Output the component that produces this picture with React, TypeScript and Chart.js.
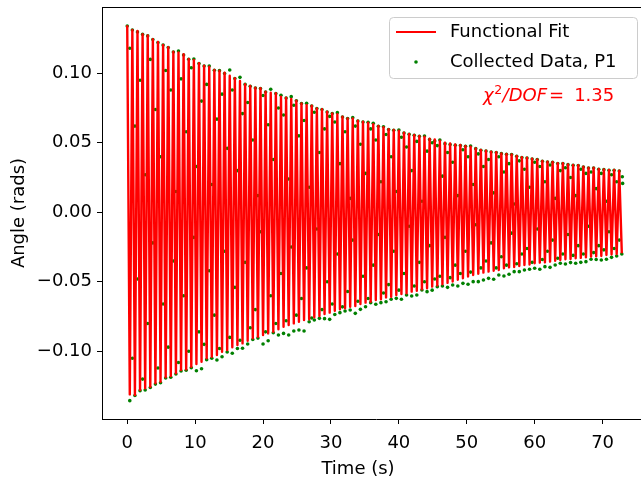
import React, { useEffect, useRef } from 'react';
import { Chart, registerables } from 'chart.js';

Chart.register(...registerables);

// Spacing of the fitted oscillation peaks (s), read from the column spacing.
const PERIOD = 0.7547;

// Upper turning points of the functional fit, one per cycle (rad), t = k*PERIOD
const FIT_TOP = [
  0.1345, 0.1311, 0.1304, 0.1282, 0.1273, 0.1245, 0.1225, 0.1204, 0.1187, 0.1155,
  0.1150, 0.1137, 0.1103, 0.1096, 0.1072, 0.1055, 0.1047, 0.1024, 0.1019, 0.1004,
  0.0983, 0.0964, 0.0945, 0.0921, 0.0909, 0.0896, 0.0892, 0.0868, 0.0860, 0.0856,
  0.0832, 0.0824, 0.0815, 0.0803, 0.0784, 0.0772, 0.0767, 0.0748, 0.0741, 0.0724,
  0.0712, 0.0705, 0.0688, 0.0676, 0.0676, 0.0659, 0.0652, 0.0645, 0.0633, 0.0621,
  0.0612, 0.0597, 0.0592, 0.0587, 0.0573, 0.0563, 0.0556, 0.0549, 0.0544, 0.0529,
  0.0525, 0.0515, 0.0501, 0.0496, 0.0489, 0.0484, 0.0477, 0.0472, 0.0460, 0.0448,
  0.0443, 0.0436, 0.0432, 0.0424, 0.0419, 0.0417, 0.0405, 0.0396, 0.0393, 0.0386,
  0.0381, 0.0369, 0.0364, 0.0362, 0.0353, 0.0353, 0.0345, 0.0340, 0.0338, 0.0328,
  0.0321, 0.0321, 0.0312, 0.0309, 0.0304, 0.0304, 0.0299,
];

// Lower turning points of the functional fit (rad), t = (k+0.5)*PERIOD
const FIT_BOTTOM = [
  -0.1310, -0.1314, -0.1278, -0.1266, -0.1255, -0.1230, -0.1219, -0.1187, -0.1178, -0.1158,
  -0.1135, -0.1130, -0.1111, -0.1091, -0.1075, -0.1050, -0.1039, -0.1027, -0.1003, -0.0991,
  -0.0971, -0.0955, -0.0943, -0.0924, -0.0906, -0.0895, -0.0883, -0.0871, -0.0859, -0.0842,
  -0.0823, -0.0811, -0.0799, -0.0787, -0.0775, -0.0770, -0.0755, -0.0746, -0.0732, -0.0722,
  -0.0708, -0.0698, -0.0691, -0.0679, -0.0674, -0.0660, -0.0650, -0.0643, -0.0631, -0.0626,
  -0.0612, -0.0607, -0.0595, -0.0588, -0.0583, -0.0571, -0.0564, -0.0554, -0.0547, -0.0535,
  -0.0527, -0.0518, -0.0508, -0.0498, -0.0485, -0.0474, -0.0462, -0.0451, -0.0442, -0.0434,
  -0.0427, -0.0420, -0.0415, -0.0403, -0.0396, -0.0393, -0.0386, -0.0379, -0.0375, -0.0367,
  -0.0362, -0.0360, -0.0355, -0.0348, -0.0343, -0.0338, -0.0336, -0.0331, -0.0328, -0.0324,
  -0.0319, -0.0317, -0.0314, -0.0307, -0.0304, -0.0300, -0.0295,
];

// Collected data near each upper peak (rad), t = k*PERIOD
const DATA_TOP = [
  0.1340, 0.1311, 0.1297, 0.1280, 0.1269, 0.1243, 0.1222, 0.1203, 0.1185, 0.1153,
  0.1160, 0.1132, 0.1101, 0.1103, 0.1070, 0.1053, 0.1053, 0.1022, 0.1019, 0.0999,
  0.1024, 0.0962, 0.0971, 0.0920, 0.0907, 0.0894, 0.0890, 0.0866, 0.0885, 0.0854,
  0.0842, 0.0822, 0.0832, 0.0803, 0.0782, 0.0784, 0.0765, 0.0746, 0.0739, 0.0722,
  0.0710, 0.0717, 0.0686, 0.0674, 0.0681, 0.0657, 0.0650, 0.0647, 0.0640, 0.0619,
  0.0615, 0.0595, 0.0590, 0.0592, 0.0571, 0.0561, 0.0554, 0.0547, 0.0549, 0.0523,
  0.0513, 0.0520, 0.0494, 0.0487, 0.0482, 0.0480, 0.0475, 0.0477, 0.0458, 0.0446,
  0.0441, 0.0434, 0.0430, 0.0422, 0.0417, 0.0415, 0.0403, 0.0394, 0.0391, 0.0384,
  0.0379, 0.0367, 0.0362, 0.0360, 0.0351, 0.0351, 0.0343, 0.0338, 0.0336, 0.0326,
  0.0319, 0.0319, 0.0310, 0.0307, 0.0302, 0.0302, 0.0297,
];

// Collected data near each lower peak (rad), t = (k+0.5)*PERIOD
const DATA_BOTTOM = [
  -0.1355, -0.1318, -0.1283, -0.1278, -0.1260, -0.1236, -0.1226, -0.1192, -0.1187, -0.1163,
  -0.1142, -0.1136, -0.1118, -0.1140, -0.1125, -0.1060, -0.1050, -0.1063, -0.1039, -0.1005,
  -0.1014, -0.0980, -0.0978, -0.0947, -0.0915, -0.0905, -0.0947, -0.0924, -0.0866, -0.0883,
  -0.0871, -0.0883, -0.0854, -0.0847, -0.0854, -0.0787, -0.0775, -0.0763, -0.0765, -0.0770,
  -0.0735, -0.0722, -0.0710, -0.0703, -0.0727, -0.0698, -0.0679, -0.0650, -0.0662, -0.0650,
  -0.0643, -0.0626, -0.0619, -0.0626, -0.0595, -0.0602, -0.0595, -0.0559, -0.0571, -0.0560,
  -0.0535, -0.0530, -0.0540, -0.0523, -0.0530, -0.0511, -0.0518, -0.0499, -0.0499, -0.0487,
  -0.0475, -0.0482, -0.0451, -0.0458, -0.0446, -0.0427, -0.0427, -0.0415, -0.0410, -0.0403,
  -0.0410, -0.0391, -0.0396, -0.0379, -0.0367, -0.0372, -0.0362, -0.0367, -0.0360, -0.0355,
  -0.0338, -0.0340, -0.0343, -0.0338, -0.0324, -0.0314, -0.0300,
];

// Collected data between the peaks, in milliradians (upper half, t = (k+0.5)*PERIOD)
const DATA_MID_UPPER = [
  118, 62, 95, 27, 110, 74, 40, 102, 88, 15,
  96, 58, 104, 33, 80, 92, 20, 67, 85, 46,
  88, 30, 71, 79, 52, 12, 84, 63, 38, 75,
  70, 24, 77, 55, 66, 18, 72, 43, 60, 69,
  65, 35, 58, 10, 62, 49, 28, 60, 52, 22,
  56, 40, 15, 54, 47, 30, 51, 8, 44, 50,
  48, 26, 43, 36, 12, 45, 40, 20, 42, 33,
  38, 14, 40, 29, 35, 6, 37, 31, 18, 36,
  33, 22, 34, 10, 30, 32, 25, 12, 31, 28,
  29, 17, 28, 8, 27, 22,
];

// Collected data between the peaks, in milliradians below zero (t = (k+1)*PERIOD)
const DATA_MID_LOWER = [
  105, 48, 120, 80, 22, 112, 66, 97, 35, 108,
  60, 100, 18, 86, 95, 42, 74, 98, 28, 90,
  54, 92, 36, 83, 70, 14, 86, 60, 80, 44,
  78, 25, 74, 62, 40, 76, 12, 70, 50, 66,
  30, 68, 57, 20, 64, 46, 62, 38, 16, 58,
  52, 28, 56, 44, 10, 53, 36, 50, 24, 48,
  46, 18, 47, 38, 44, 28, 43, 9, 40, 35,
  22, 40, 32, 38, 15, 37, 30, 26, 36, 12,
  34, 28, 20, 33, 30, 16, 31, 24, 30, 10,
  29, 24, 27, 14, 26, 20,
];

// Last collected samples
const DATA_END_T = [72.9, 72.95];
const DATA_END_Y = [0.0256, 0.0208];

const X_TICKS = [0, 10, 20, 30, 40, 50, 60, 70];
const Y_TICKS = [-0.1, -0.05, 0, 0.05, 0.1];
const X_LIMITS = [-3.715, 76.98];
const Y_LIMITS = [-0.1487, 0.1477];

const FIT_LABEL = 'Functional Fit';
const DATA_LABEL = 'Collected Data, P1';
const X_TITLE = 'Time (s)';
const Y_TITLE = 'Angle (rads)';
const CHI2_VALUE = '1.35';

const FONT = '"DejaVu Sans", sans-serif';
const RED = '#ff0000';
const GREEN = '#008000';

function fmtY(v: number): string {
  if (Math.abs(v) < 1e-9) return '0.00';
  return (v < 0 ? '\u2212' : '') + Math.abs(v).toFixed(2);
}

const decorPlugin = {
  id: 'decor',
  afterDraw(chart: any) {
    const ctx: CanvasRenderingContext2D = chart.ctx;
    const area = chart.chartArea;
    ctx.save();
    // top spine
    ctx.strokeStyle = '#000';
    ctx.lineWidth = 1;
    ctx.beginPath();
    ctx.moveTo(area.left, area.top + 0.5);
    ctx.lineTo(area.right, area.top + 0.5);
    ctx.stroke();

    // axis titles
    ctx.fillStyle = '#000';
    ctx.font = `18px ${FONT}`;
    ctx.textAlign = 'center';
    ctx.textBaseline = 'middle';
    ctx.fillText(X_TITLE, 358, 469.5);
    ctx.save();
    ctx.translate(19, 213);
    ctx.rotate(-Math.PI / 2);
    ctx.fillText(Y_TITLE, 0, 0);
    ctx.restore();

    // legend box
    const bx = 389.5, by = 17.5, bw = 248, bh = 61, r = 4;
    ctx.beginPath();
    ctx.moveTo(bx + r, by);
    ctx.lineTo(bx + bw - r, by);
    ctx.quadraticCurveTo(bx + bw, by, bx + bw, by + r);
    ctx.lineTo(bx + bw, by + bh - r);
    ctx.quadraticCurveTo(bx + bw, by + bh, bx + bw - r, by + bh);
    ctx.lineTo(bx + r, by + bh);
    ctx.quadraticCurveTo(bx, by + bh, bx, by + bh - r);
    ctx.lineTo(bx, by + r);
    ctx.quadraticCurveTo(bx, by, bx + r, by);
    ctx.closePath();
    ctx.fillStyle = 'rgba(255,255,255,0.8)';
    ctx.fill();
    ctx.strokeStyle = '#cccccc';
    ctx.lineWidth = 1;
    ctx.stroke();

    const ds = chart.data.datasets;
    ctx.strokeStyle = ds[0].borderColor;
    ctx.lineWidth = 2;
    ctx.beginPath();
    ctx.moveTo(396, 32);
    ctx.lineTo(436, 32);
    ctx.stroke();
    ctx.fillStyle = ds[1].backgroundColor;
    ctx.beginPath();
    ctx.arc(416, 62, 1.8, 0, Math.PI * 2);
    ctx.fill();
    ctx.fillStyle = '#000';
    ctx.textAlign = 'left';
    ctx.font = `18px ${FONT}`;
    ctx.fillText(ds[0].label, 450, 32);
    ctx.fillText(ds[1].label, 450, 62);

    // chi^2 / DOF annotation
    ctx.fillStyle = RED;
    ctx.textBaseline = 'alphabetic';
    const base = 101;
    let x = 483;
    ctx.font = `italic 18px ${FONT}`;
    ctx.fillText('\u03c7', x, base);
    x += ctx.measureText('\u03c7').width + 0.5;
    ctx.font = `12.5px ${FONT}`;
    ctx.fillText('2', x, base - 7.5);
    x += ctx.measureText('2').width + 0.5;
    ctx.font = `italic 18px ${FONT}`;
    ctx.fillText('/DOF', x, base);
    x += ctx.measureText('/DOF').width + 2;
    ctx.font = `18px ${FONT}`;
    ctx.fillText('=', x, base);
    x += ctx.measureText('=').width + 10;
    ctx.fillText(CHI2_VALUE, x, base);
    ctx.restore();
  },
};

export default function App() {
  const ref = useRef<HTMLCanvasElement>(null);

  useEffect(() => {
    const canvas = ref.current;
    if (!canvas) return;

    const fitPts: { x: number; y: number }[] = [];
    for (let k = 0; k < FIT_TOP.length; k++) {
      fitPts.push({ x: k * PERIOD, y: FIT_TOP[k] });
      if (k < FIT_BOTTOM.length) fitPts.push({ x: (k + 0.5) * PERIOD, y: FIT_BOTTOM[k] });
    }

    const dataPts: { x: number; y: number }[] = [];
    DATA_TOP.forEach((v, k) => dataPts.push({ x: k * PERIOD, y: v }));
    DATA_BOTTOM.forEach((v, k) => dataPts.push({ x: (k + 0.5) * PERIOD, y: v }));
    DATA_MID_UPPER.forEach((v, k) => dataPts.push({ x: (k + 0.5) * PERIOD, y: v / 1000 }));
    DATA_MID_LOWER.forEach((v, k) => dataPts.push({ x: (k + 1) * PERIOD, y: -v / 1000 }));
    DATA_END_T.forEach((t, i) => dataPts.push({ x: t, y: DATA_END_Y[i] }));

    const tickFont = { family: FONT, size: 18 };

    const chart = new Chart(canvas, {
      type: 'scatter',
      data: {
        datasets: [
          {
            label: FIT_LABEL,
            data: fitPts,
            showLine: true,
            borderColor: RED,
            backgroundColor: RED,
            borderWidth: 2.4,
            borderJoinStyle: 'round',
            pointRadius: 0,
            pointHoverRadius: 0,
            tension: 0,
          } as any,
          {
            label: DATA_LABEL,
            data: dataPts,
            showLine: false,
            backgroundColor: GREEN,
            borderColor: GREEN,
            borderWidth: 0,
            pointRadius: 1.8,
          },
        ],
      },
      options: {
        responsive: false,
        animation: false,
        devicePixelRatio: 1,
        layout: { padding: { top: 7, right: 50, left: 0, bottom: 0 } },
        plugins: {
          legend: { display: false },
          tooltip: { enabled: false },
        },
        events: [],
        scales: {
          x: {
            type: 'linear',
            position: 'bottom',
            min: X_LIMITS[0],
            max: X_LIMITS[1],
            afterBuildTicks: (s: any) => {
              s.ticks = X_TICKS.map((v) => ({ value: v }));
            },
            afterFit: (s: any) => {
              s.height = 58;
              s.paddingLeft = 0;
              s.paddingRight = 0;
            },
            ticks: {
              font: tickFont,
              color: '#000',
              padding: 9,
              maxRotation: 0,
              autoSkip: false,
              callback: (v: any) => String(v),
            },
            grid: {
              drawOnChartArea: false,
              drawTicks: true,
              tickLength: 5,
              color: '#000',
              tickColor: '#000',
            },
            border: { display: true, color: '#000', width: 1 },
          },
          y: {
            type: 'linear',
            min: Y_LIMITS[0],
            max: Y_LIMITS[1],
            afterBuildTicks: (s: any) => {
              s.ticks = Y_TICKS.map((v) => ({ value: v }));
            },
            afterFit: (s: any) => {
              s.width = 102;
              s.paddingTop = 0;
              s.paddingBottom = 0;
            },
            ticks: {
              font: tickFont,
              color: '#000',
              padding: 5,
              autoSkip: false,
              callback: (v: any) => fmtY(Number(v)),
            },
            grid: {
              drawOnChartArea: false,
              drawTicks: true,
              tickLength: 5,
              color: '#000',
              tickColor: '#000',
            },
            border: { display: true, color: '#000', width: 1 },
          },
        },
      } as any,
      plugins: [decorPlugin],
    });

    return () => chart.destroy();
  }, []);

  return (
    <div style={{ position: 'absolute', left: 0, top: 0, width: 641, height: 477, overflow: 'hidden', background: '#fff' }}>
      <canvas ref={ref} width={700} height={477} style={{ display: 'block', width: 700, height: 477 }} />
    </div>
  );
}
